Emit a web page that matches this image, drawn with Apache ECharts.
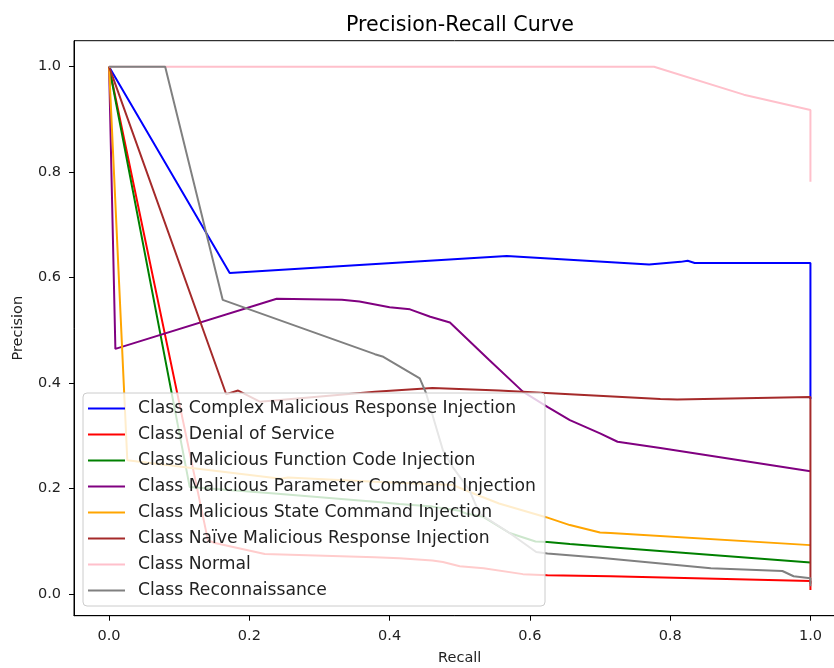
<!DOCTYPE html>
<html><head><meta charset="utf-8">
<script src="https://cdn.jsdelivr.net/npm/echarts@6/dist/echarts.min.js"></script>
<style>html,body{margin:0;padding:0;background:#fff}#c{width:834px;height:668px}</style>
</head><body><div id="c"></div>
<script>
const classNames = [
  "Class Complex Malicious Response Injection",
  "Class Denial of Service",
  "Class Malicious Function Code Injection",
  "Class Malicious Parameter Command Injection",
  "Class Malicious State Command Injection",
  "Class Naïve Malicious Response Injection",
  "Class Normal",
  "Class Reconnaissance"
];
const colors = ["#0000ff","#ff0000","#008000","#800080","#ffa500","#a52a2a","#ffc0cb","#808080"];

// [recall, precision]
const complexMRI = [[0,1],[0.172,0.609],[0.357,0.624],[0.567,0.641],[0.77,0.625],[0.815,0.630],[0.825,0.632],[0.835,0.628],[1.0,0.628],[1.0,0.37]];
const denialOfService = [[0,1],[0.141,0.102],[0.151,0.097],[0.222,0.076],[0.379,0.070],[0.414,0.068],[0.461,0.064],[0.476,0.061],[0.50,0.053],[0.534,0.049],[0.59,0.038],[0.625,0.036],[0.715,0.034],[1.0,0.025],[1.0,0.008]];
const functionCode = [[0,1],[0.115,0.203],[0.236,0.191],[0.379,0.175],[0.414,0.171],[0.461,0.166],[0.50,0.158],[0.509,0.153],[0.533,0.147],[0.571,0.116],[0.608,0.100],[0.625,0.099],[0.657,0.095],[0.715,0.089],[1.0,0.060]];
const parameterCmd = [[0,1],[0.009,0.465],[0.239,0.560],[0.332,0.558],[0.357,0.555],[0.40,0.544],[0.429,0.540],[0.458,0.526],[0.486,0.515],[0.542,0.444],[0.59,0.384],[0.625,0.355],[0.657,0.330],[0.70,0.305],[0.725,0.289],[0.786,0.277],[1.0,0.233]];
const stateCmd = [[0,1],[0.026,0.254],[0.245,0.219],[0.255,0.221],[0.379,0.213],[0.49,0.207],[0.525,0.188],[0.556,0.172],[0.623,0.146],[0.657,0.131],[0.70,0.117],[0.715,0.116],[1.0,0.093]];
const naiveMRI = [[0,1],[0.167,0.379],[0.184,0.386],[0.215,0.365],[0.379,0.384],[0.461,0.391],[0.556,0.386],[0.657,0.379],[0.786,0.370],[0.81,0.369],[1.0,0.374],[1.0,0.02]];
const normal = [[0,1],[0.777,1.0],[0.905,0.947],[1.0,0.918],[1.0,0.782]];
const reconnaissance = [[0,1],[0.080,1.0],[0.162,0.558],[0.379,0.455],[0.391,0.450],[0.443,0.409],[0.452,0.381],[0.476,0.273],[0.49,0.241],[0.514,0.197],[0.528,0.153],[0.571,0.116],[0.609,0.080],[0.625,0.077],[0.70,0.069],[0.858,0.049],[0.96,0.044],[0.976,0.034],[1.0,0.030],[1.0,0.015]];

const seriesData = [complexMRI, denialOfService, functionCode, parameterCmd, stateCmd, naiveMRI, normal, reconnaissance];
const xTicks = [0, 0.2, 0.4, 0.6, 0.8, 1.0];
const yTicks = [0, 0.2, 0.4, 0.6, 0.8, 1.0];

const FONT = "DejaVu Sans";
const chart = echarts.init(document.getElementById('c'), null, {renderer: 'canvas'});
chart.setOption({
  animation: false,
  backgroundColor: '#ffffff',
  title: {
    text: 'Precision-Recall Curve',
    left: 455, top: 10, textAlign: 'center',
    textStyle: {fontFamily: FONT, fontSize: 20.6, fontWeight: 'normal', color: '#000'}
  },
  grid: {left: 74, right: -11.5, top: 40.7, bottom: 52.3, outerBoundsMode: 'none', containLabel: false,
         show: true, borderColor: '#000', borderWidth: 1, backgroundColor: 'transparent'},
  legend: {
    orient: 'vertical', left: 83, top: 393,
    padding: [7, 9, 7, 5],
    itemGap: 9, itemWidth: 37, itemHeight: 2, icon: 'rect',
    backgroundColor: 'rgba(255,255,255,0.8)', borderColor: '#cccccc', borderWidth: 1, borderRadius: 4,
    textStyle: {fontFamily: FONT, fontSize: 17.2, lineHeight: 17, color: '#222', padding: [0, 0, 0, 8]},
    data: classNames
  },
  xAxis: {
    type: 'value', min: -0.05, max: 1.05,
    name: 'Recall', nameLocation: 'middle', nameGap: 35,
    nameTextStyle: {fontFamily: FONT, fontSize: 14.5, color: '#222'},
    axisLine: {show: true, onZero: false, lineStyle: {color: '#000', width: 1}},
    axisTick: {show: true, length: 5, customValues: xTicks, lineStyle: {color: '#000'}},
    axisLabel: {customValues: xTicks, margin: 13, fontFamily: FONT, fontSize: 14.5, color: '#222', formatter: v => v.toFixed(1)},
    splitLine: {show: false}
  },
  yAxis: {
    type: 'value', min: -0.0408, max: 1.0493,
    name: 'Precision', nameLocation: 'middle', nameGap: 48, nameRotate: 90,
    nameTextStyle: {fontFamily: FONT, fontSize: 14.5, color: '#222'},
    axisLine: {show: true, onZero: false, lineStyle: {color: '#000', width: 1}},
    axisTick: {show: true, length: 5, customValues: yTicks, lineStyle: {color: '#000'}},
    axisLabel: {customValues: yTicks, margin: 13, fontFamily: FONT, fontSize: 14.5, color: '#222', formatter: v => v.toFixed(1)},
    splitLine: {show: false}
  },
  series: seriesData.map((d, i) => ({
    name: classNames[i], type: 'line', data: d,
    showSymbol: false, symbol: 'none',
    lineStyle: {color: colors[i], width: 2},
    itemStyle: {color: colors[i]},
    emphasis: {disabled: true}
  }))
});
</script></body></html>
